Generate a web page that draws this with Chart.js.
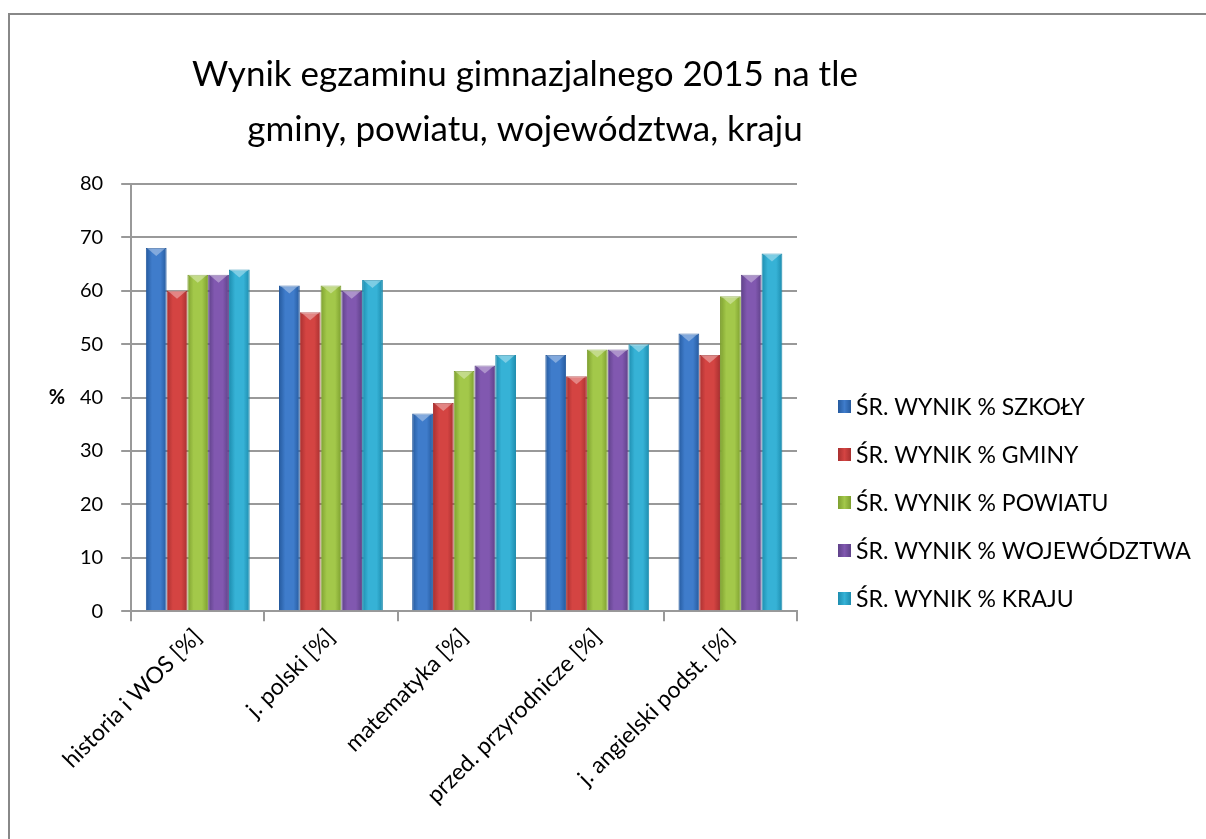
<!DOCTYPE html>
<html>
<head>
<meta charset="utf-8">
<script src="https://cdn.jsdelivr.net/npm/chart.js@4.4.1/dist/chart.umd.min.js"></script>
<style>
  html, body { margin: 0; padding: 0; background: #fff; }
  #wrap { width: 1206px; height: 839px; }
</style>
</head>
<body>
<div id="wrap"><canvas id="wykres" width="1206" height="839"></canvas></div>
<script>
var przedmioty = ['historia i WOS [%]', 'j. polski [%]', 'matematyka [%]', 'przed. przyrodnicze [%]', 'j. angielski podst. [%]'];
var szkola = [68, 61, 37, 48, 52];
var gmina = [60, 56, 39, 44, 48];
var powiat = [63, 61, 45, 49, 59];
var wojewodztwo = [63, 60, 46, 49, 63];
var kraj = [64, 62, 48, 50, 67];
var nazwySerii = ['ŚR. WYNIK % SZKOŁY', 'ŚR. WYNIK % GMINY', 'ŚR. WYNIK % POWIATU', 'ŚR. WYNIK % WOJEWÓDZTWA', 'ŚR. WYNIK % KRAJU'];
var tytul = ['Wynik egzaminu gimnazjalnego 2015 na tle', 'gminy, powiatu, województwa, kraju'];

// kolory: [ciemny, jasny]
var kolory = [
  ['#255a9e', '#3f7ccb'],
  ['#a83030', '#d44442'],
  ['#7d9f2f', '#a3c84a'],
  ['#5e4188', '#8158b0'],
  ['#1d8cae', '#36b2d6']
];

var FONT = 'Lato, "Open Sans", sans-serif';

// gradient "bevel" na słupkach
var bevel = {
  id: 'bevel',
  beforeDatasetsDraw: function (chart) {
    var ctx = chart.ctx;
    chart.data.datasets.forEach(function (ds, i) {
      chart.getDatasetMeta(i).data.forEach(function (bar) {
        var x0 = bar.x - bar.width / 2, x1 = bar.x + bar.width / 2;
        var g = ctx.createLinearGradient(x0, 0, x1, 0);
        g.addColorStop(0, kolory[i][0]);
        g.addColorStop(0.3, kolory[i][1]);
        g.addColorStop(0.7, kolory[i][1]);
        g.addColorStop(1, kolory[i][0]);
        bar.options.backgroundColor = g;
      });
    });
  },
  afterDatasetsDraw: function (chart) {
    var ctx = chart.ctx;
    ctx.save();
    chart.data.datasets.forEach(function (ds, i) {
      chart.getDatasetMeta(i).data.forEach(function (bar) {
        var x0 = bar.x - bar.width / 2, x1 = bar.x + bar.width / 2;
        var h = Math.min(8, bar.width / 2.5);
        ctx.beginPath();
        ctx.moveTo(x0 + 1, bar.y);
        ctx.lineTo(x1 - 1, bar.y);
        ctx.lineTo(bar.x, bar.y + h);
        ctx.closePath();
        ctx.fillStyle = 'rgba(255,255,255,0.35)';
        ctx.fill();
      });
    });
    ctx.restore();
  }
};

// tytuł, legenda, "%" i ramka
var dodatki = {
  id: 'dodatki',
  afterDraw: function (chart) {
    var ctx = chart.ctx;
    ctx.save();
    ctx.strokeStyle = '#888';
    ctx.lineWidth = 2;
    ctx.beginPath();
    ctx.moveTo(9, 839);
    ctx.lineTo(9, 14);
    ctx.lineTo(1206, 14);
    ctx.stroke();

    ctx.fillStyle = '#000';
    ctx.textAlign = 'center';
    ctx.textBaseline = 'middle';
    ctx.font = '35px ' + FONT;
    ctx.fillText(tytul[0], 525, 75);
    ctx.fillText(tytul[1], 525, 130);

    ctx.font = 'bold 20px ' + FONT;
    ctx.fillText('%', 57, chart.scales.y.getPixelForValue(40));

    ctx.textAlign = 'left';
    ctx.font = '23px ' + FONT;
    nazwySerii.forEach(function (n, i) {
      var y = 407 + i * 48;
      var g = ctx.createLinearGradient(838, 0, 851, 0);
      g.addColorStop(0, kolory[i][0]);
      g.addColorStop(0.5, kolory[i][1]);
      g.addColorStop(1, kolory[i][0]);
      ctx.fillStyle = g;
      ctx.fillRect(838, y - 7, 13, 13);
      ctx.fillStyle = '#000';
      ctx.fillText(n, 856, y + 1);
    });
    ctx.restore();
  }
};

var serie = [szkola, gmina, powiat, wojewodztwo, kraj];

new Chart(document.getElementById('wykres').getContext('2d'), {
  type: 'bar',
  data: {
    labels: przedmioty,
    datasets: serie.map(function (d, i) {
      return {
        label: nazwySerii[i],
        data: d,
        // funkcja -> każdy słupek ma własny obiekt opcji
        backgroundColor: function () { return kolory[i][1]; },
        borderColor: kolory[i][0],
        borderWidth: 1,
        barPercentage: 1.0,
        categoryPercentage: 0.78
      };
    })
  },
  options: {
    responsive: false,
    animation: false,
    layout: { padding: { left: 62, top: 184, right: 409, bottom: 28 } },
    plugins: {
      legend: { display: false },
      title: { display: false },
      tooltip: { enabled: false }
    },
    scales: {
      x: {
        grid: { offset: true, drawOnChartArea: false, color: '#999', lineWidth: 2, tickLength: 10 },
        border: { color: '#999', width: 2 },
        ticks: { color: '#000', font: { family: FONT, size: 23 }, minRotation: 45, maxRotation: 45, padding: 2 }
      },
      y: {
        min: 0,
        max: 80,
        ticks: { stepSize: 10, color: '#000', font: { family: FONT, size: 20 }, padding: 18 },
        grid: { color: '#999', lineWidth: 2, tickLength: 10 },
        border: { color: '#999', width: 2 }
      }
    }
  },
  plugins: [bevel, dodatki]
});
</script>
</body>
</html>
